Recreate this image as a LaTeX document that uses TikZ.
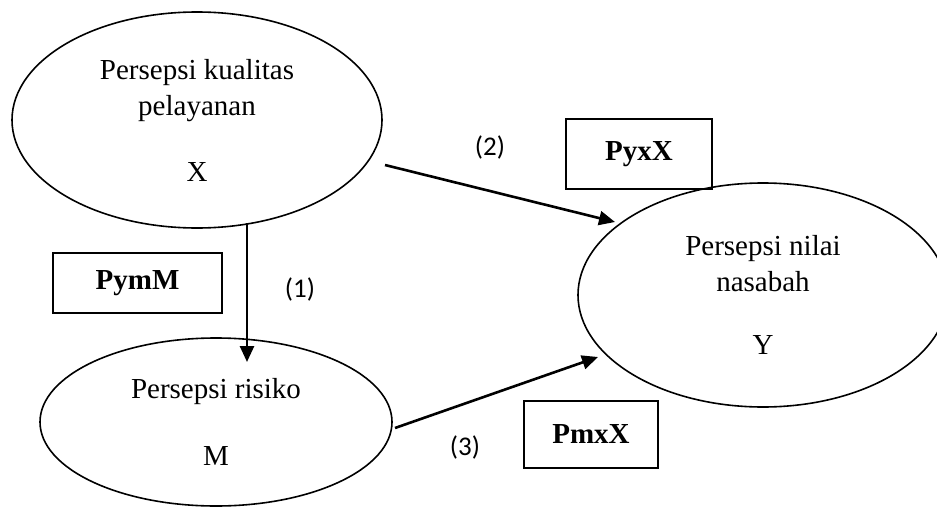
\documentclass[tikz,border=0pt]{standalone}
\usepackage{fontspec}
\setmainfont{Liberation Serif}
\newfontfamily\calib{Carlito}
\usetikzlibrary{shapes.geometric,arrows.meta,calc}
\begin{document}
\begin{tikzpicture}[x=1pt,y=-1pt,
  ell/.style={ellipse,draw,line width=1.6pt,inner sep=0pt,align=center,font=\fontsize{29}{36}\selectfont},
  coef/.style={draw,line width=1.8pt,inner sep=0pt,font=\fontsize{29}{34}\selectfont\bfseries},
  lab/.style={font=\calib\fontsize{27}{32}\selectfont,inner sep=0pt},
  arr/.style={line width=2.6pt,-{Triangle[length=16pt,width=14pt]}}]
\useasboundingbox (0,0) rectangle (937,506);
\node[ell,minimum width=370pt,minimum height=216pt] (X) at (197,120) {Persepsi kualitas\\pelayanan\\[30pt]X};
\node[ell,minimum width=370pt,minimum height=224pt] (Y) at (763,295) {Persepsi nilai\\nasabah\\[27pt]Y};
\node[ell,minimum width=352pt,minimum height=168pt] (M) at (216,422) {Persepsi risiko\\[31pt]M};
\node[coef,minimum width=169pt,minimum height=60pt] (pym) at (137.5,283) {PymM};
\node[coef,minimum width=146pt,minimum height=70pt] (pyx) at (639,154) {PyxX};
\node[coef,minimum width=134pt,minimum height=67pt] (pmx) at (591,434.5) {PmxX};
\node[lab] (l1) at (300,289) {(1)};
\node[lab] (l2) at (490,147) {(2)};
\node[lab] (l3) at (465,447) {(3)};
\draw[arr] ($(X.center)+(50,103)$) -- ($(M.center)+(31,-60)$);
\draw[arr] ($(X.center)+(188,45)$) -- ($(Y.center)+(-148,-73)$);
\draw[arr] ($(M.center)+(179,6)$) -- ($(Y.center)+(-165,62)$);
\end{tikzpicture}
\end{document}
